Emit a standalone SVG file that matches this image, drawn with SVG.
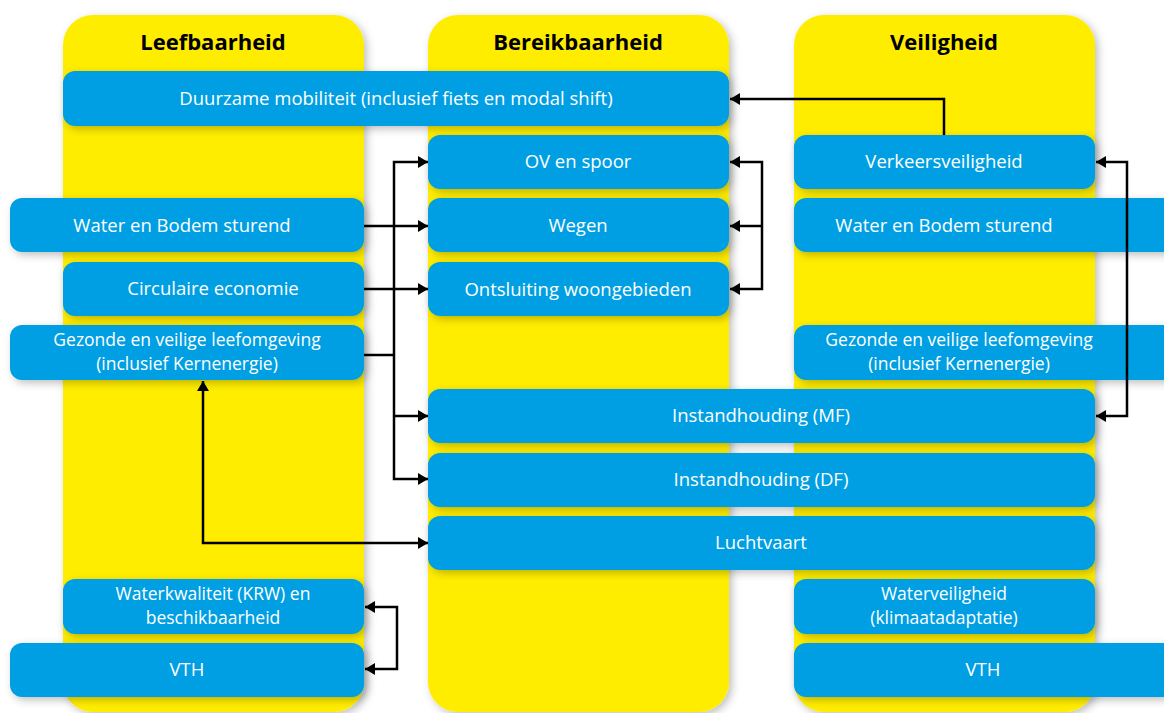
<svg xmlns="http://www.w3.org/2000/svg" width="1164" height="713" viewBox="0 0 1164 713">
<defs>
<filter id="sh" x="-10%" y="-10%" width="130%" height="130%">
<feDropShadow dx="3" dy="3" stdDeviation="4" flood-color="#000" flood-opacity="0.25"/>
</filter>
<marker id="ah" viewBox="0 0 10 12" refX="10" refY="6" markerWidth="10" markerHeight="12" markerUnits="userSpaceOnUse" orient="auto-start-reverse">
<path d="M0,0 L10,6 L0,12 Z" fill="#000"/>
</marker>
<style>
.col{fill:#FFED00;filter:url(#sh);}
.box{fill:#009FE3;filter:url(#sh);}
.t{font-family:"Open Sans","Noto Sans",sans-serif;font-size:18.5px;fill:#fff;text-anchor:middle;}
.t2{font-size:17.5px;}
.h{font-family:"Open Sans","Noto Sans",sans-serif;font-size:22px;font-weight:bold;fill:#000;text-anchor:middle;}
.c{fill:none;stroke:#000;stroke-width:2.5;}
</style>
</defs>
<g id="columns">
<g id="col-leefbaarheid"><rect class="col" x="63" y="15" width="301" height="697" rx="30"/><text class="h" x="213" y="50">Leefbaarheid</text></g>
<g id="col-bereikbaarheid"><rect class="col" x="428" y="15" width="301" height="697" rx="30"/><text class="h" x="578" y="50">Bereikbaarheid</text></g>
<g id="col-veiligheid"><rect class="col" x="794" y="15" width="301" height="697" rx="30"/><text class="h" x="944" y="50">Veiligheid</text></g>
</g>
<g id="duurzame"><rect class="box" x="63" y="71" width="666" height="55" rx="12"/><text class="t" x="396" y="105">Duurzame mobiliteit (inclusief fiets en modal shift)</text></g>
<g id="ov"><rect class="box" x="428" y="135" width="301" height="54" rx="12"/><text class="t" x="578" y="168">OV en spoor</text></g>
<g id="verkeersveiligheid"><rect class="box" x="794" y="135" width="301" height="54" rx="12"/><text class="t" x="944" y="168">Verkeersveiligheid</text></g>
<g id="water-bodem-l"><rect class="box" x="10" y="198" width="354" height="54" rx="12"/><text class="t" x="182" y="232">Water en Bodem sturend</text></g>
<g id="wegen"><rect class="box" x="428" y="198" width="301" height="54" rx="12"/><text class="t" x="578" y="232">Wegen</text></g>
<g id="water-bodem-r"><rect class="box" x="794" y="198" width="390" height="54" rx="12"/><text class="t" x="944" y="232">Water en Bodem sturend</text></g>
<g id="circulaire"><rect class="box" x="63" y="262" width="301" height="54" rx="12"/><text class="t" x="213" y="295">Circulaire economie</text></g>
<g id="ontsluiting"><rect class="box" x="428" y="262" width="301" height="54" rx="12"/><text class="t" x="578" y="296">Ontsluiting woongebieden</text></g>
<g id="gezonde-l"><rect class="box" x="10" y="325" width="354" height="55" rx="12"/><text class="t t2" x="187" y="346">Gezonde en veilige leefomgeving</text><text class="t t2" x="187" y="370">(inclusief Kernenergie)</text></g>
<g id="gezonde-r"><rect class="box" x="794" y="325" width="390" height="55" rx="12"/><text class="t t2" x="959" y="346">Gezonde en veilige leefomgeving</text><text class="t t2" x="959" y="370">(inclusief Kernenergie)</text></g>
<g id="instandhouding-mf"><rect class="box" x="428" y="389" width="667" height="54" rx="12"/><text class="t" x="761" y="422">Instandhouding (MF)</text></g>
<g id="instandhouding-df"><rect class="box" x="428" y="453" width="667" height="54" rx="12"/><text class="t" x="761" y="486">Instandhouding (DF)</text></g>
<g id="luchtvaart"><rect class="box" x="428" y="516" width="667" height="54" rx="12"/><text class="t" x="761" y="549">Luchtvaart</text></g>
<g id="waterkwaliteit"><rect class="box" x="63" y="579" width="301" height="55" rx="12"/><text class="t t2" x="213" y="600">Waterkwaliteit (KRW) en</text><text class="t t2" x="213" y="624">beschikbaarheid</text></g>
<g id="waterveiligheid"><rect class="box" x="794" y="579" width="301" height="55" rx="12"/><text class="t t2" x="944" y="600">Waterveiligheid</text><text class="t t2" x="944" y="624">(klimaatadaptatie)</text></g>
<g id="vth-l"><rect class="box" x="10" y="643" width="354" height="54" rx="12"/><text class="t" x="187" y="676">VTH</text></g>
<g id="vth-r"><rect class="box" x="794" y="643" width="390" height="54" rx="12"/><text class="t" x="983" y="676">VTH</text></g>
<g id="connectors">
<path class="c" d="M944,135 V99 H730" marker-end="url(#ah)"/>
<path class="c" d="M730,162 H762 V289 H730" marker-start="url(#ah)" marker-end="url(#ah)"/>
<path class="c" d="M762,226 H730" marker-end="url(#ah)"/>
<path class="c" d="M1096,162 H1127 V416 H1096" marker-start="url(#ah)" marker-end="url(#ah)"/>
<path class="c" d="M428,162 H394 V479 H428" marker-start="url(#ah)" marker-end="url(#ah)"/>
<path class="c" d="M394,416 H428" marker-end="url(#ah)"/>
<path class="c" d="M364,226 H428" marker-end="url(#ah)"/>
<path class="c" d="M364,289 H428" marker-end="url(#ah)"/>
<path class="c" d="M364,355 H394"/>
<path class="c" d="M203,381 V543 H428" marker-start="url(#ah)" marker-end="url(#ah)"/>
<path class="c" d="M365,607 H397 V669 H365" marker-start="url(#ah)" marker-end="url(#ah)"/>
</g>
</svg>
